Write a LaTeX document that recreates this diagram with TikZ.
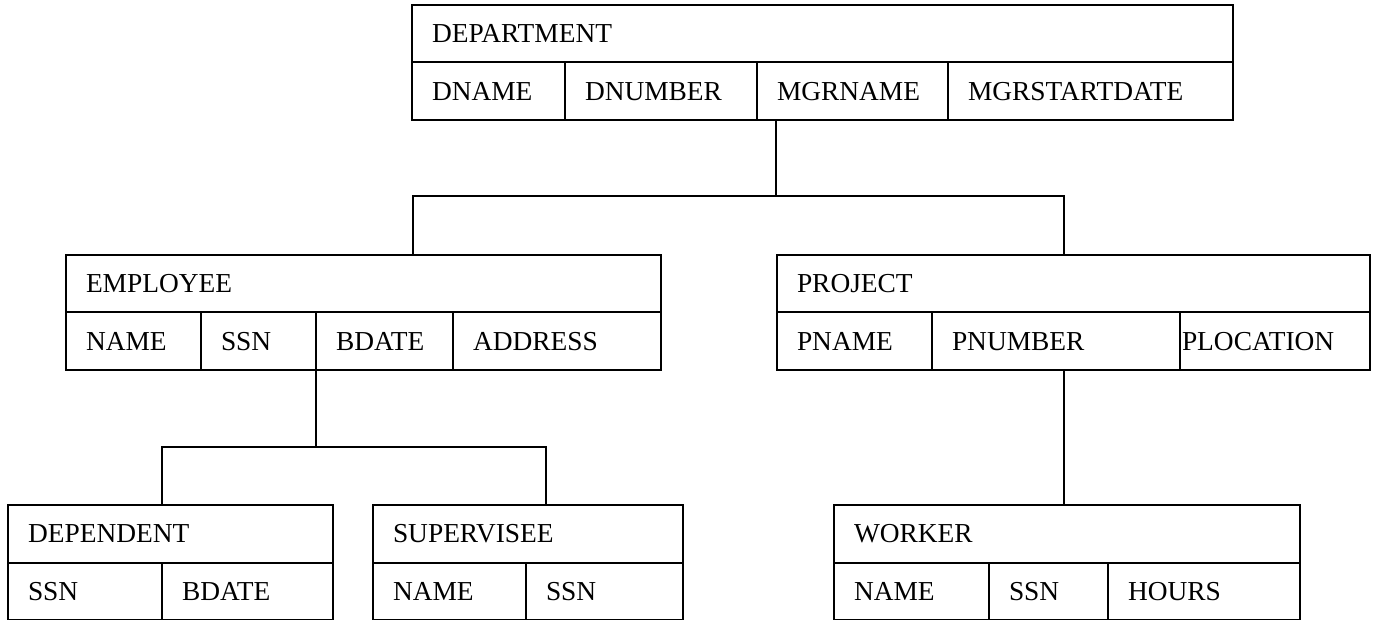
\documentclass[tikz,border=0pt]{standalone}
\usepackage{fontspec}
\setmainfont{Liberation Serif}
\usepackage{tikz}

\begin{document}
\begin{tikzpicture}[x=0.5pt, y=-0.5pt, line width=1pt,
	cell/.style={draw=black, anchor=north west, outer sep=0pt, inner xsep=10pt, inner ysep=0pt,
		minimum height=28.75pt, text height=9.1pt, text depth=0pt, align=left,
		font=\fontsize{13.7}{15}\selectfont}]
	\useasboundingbox (0,0) rectangle (1376,620);

	% department
	\node[cell, text width=390.5pt] (dept)     at (412, 5)     {DEPARTMENT};
	\node[cell, text width=56.5pt]  (dname)    at (412, 62.5)  {DNAME};
	\node[cell, text width=76pt]    (dnumber)  at (565, 62.5)  {DNUMBER};
	\node[cell, text width=75.5pt]  (mgrname)  at (757, 62.5)  {MGRNAME};
	\node[cell, text width=122.5pt] (mgrstart) at (948, 62.5)  {MGRSTARTDATE};

	% employee
	\node[cell, text width=277.5pt] (emp)      at (66, 255)    {EMPLOYEE};
	\node[cell, text width=47.5pt]  (ename)    at (66, 312.5)  {NAME};
	\node[cell, text width=37.5pt]  (essn)     at (201, 312.5) {SSN};
	\node[cell, text width=48.5pt]  (ebdate)   at (316, 312.5) {BDATE};
	\node[cell, text width=84pt]    (eaddr)    at (453, 312.5) {ADDRESS};

	% project
	\node[cell, text width=276.5pt] (proj)     at (777, 255)   {PROJECT};
	\node[cell, text width=57.5pt]  (pname)    at (777, 312.5) {PNAME};
	\node[cell, text width=104pt]   (pnumber)  at (932, 312.5) {PNUMBER};
	\node[cell, text width=93pt, inner xsep=1pt] (ploc) at (1180, 312.5) {PLOCATION};

	% dependent
	\node[cell, text width=142.5pt] (dep)      at (8, 505)     {DEPENDENT};
	\node[cell, text width=57pt]    (depssn)   at (8, 562.5)   {SSN};
	\node[cell, text width=65.5pt]  (depbdate) at (162, 562.5) {BDATE};

	% supervisee
	\node[cell, text width=135pt]   (sup)      at (373, 505)   {SUPERVISEE};
	\node[cell, text width=56.5pt]  (supname)  at (373, 562.5) {NAME};
	\node[cell, text width=58.5pt]  (supssn)   at (526, 562.5) {SSN};

	% worker
	\node[cell, text width=213pt]   (wrk)      at (834, 505)   {WORKER};
	\node[cell, text width=57.5pt]  (wname)    at (834, 562.5) {NAME};
	\node[cell, text width=39.5pt]  (wssn)     at (989, 562.5) {SSN};
	\node[cell, text width=76pt]    (whours)   at (1108, 562.5) {HOURS};

	% attachment points
	\coordinate (d)  at (776, 120);
	\coordinate (e)  at (413, 255);
	\coordinate (p)  at (1064, 255);
	\coordinate (e2) at (316, 370);
	\coordinate (dp) at (162, 505);
	\coordinate (sv) at (546, 505);
	\coordinate (p2) at (1064, 370);
	\coordinate (w)  at (1064, 505);

	\draw (d) -- ++(0,76) -| (e);
	\draw (d) -- ++(0,76) -| (p);
	\draw (e2) -- ++(0,77) -| (dp);
	\draw (e2) -- ++(0,77) -| (sv);
	\draw (p2) -- (w);

\end{tikzpicture}
\end{document}
